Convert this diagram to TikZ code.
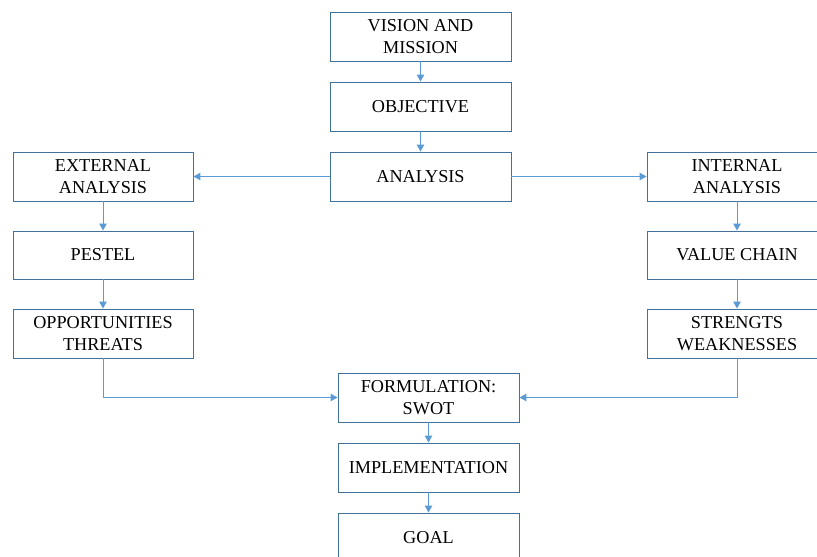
\documentclass[tikz,border=0pt]{standalone}
\usepackage{fontspec}
\setmainfont{Liberation Serif}
\usetikzlibrary{arrows.meta}
\definecolor{boxc}{HTML}{41719C}
\definecolor{arrc}{HTML}{5B9BD5}
\begin{document}
\begin{tikzpicture}[x=1pt,y=-1pt,
  blk/.style={draw=boxc, line width=0.9pt, fill=white, minimum height=49pt, inner sep=0pt,
    align=center, font=\fontsize{18.2}{21.7}\selectfont, text=black},
  conn/.style={draw=arrc, line width=1pt, -{Triangle[length=7pt,width=7.5pt]}}]
\useasboundingbox (0,0) rectangle (817,557);
\clip (0,0) rectangle (817,557);
\node[blk, minimum width=181pt] (vm) at (420.5,36.5) {VISION AND\\MISSION};
\node[blk, minimum width=181pt] (obj) at (420.5,106.5) {OBJECTIVE};
\node[blk, minimum width=181pt] (ana) at (420.5,176.5) {ANALYSIS};
\node[blk, minimum width=180pt] (ext) at (103,176.5) {EXTERNAL\\ANALYSIS};
\node[blk, minimum width=180pt, minimum height=48pt] (pes) at (103,255) {PESTEL};
\node[blk, minimum width=180pt] (opp) at (103,333.5) {OPPORTUNITIES\\THREATS};
\node[blk, minimum width=180pt] (int) at (737,176.5) {INTERNAL\\ANALYSIS};
\node[blk, minimum width=180pt, minimum height=48pt] (val) at (737,255) {VALUE CHAIN};
\node[blk, minimum width=180pt] (str) at (737,333.5) {STRENGTS\\WEAKNESSES};
\node[blk, minimum width=181pt] (form) at (428.5,397.5) {FORMULATION:\\SWOT};
\node[blk, minimum width=181pt] (impl) at (428.5,467.5) {IMPLEMENTATION};
\node[blk, minimum width=181pt] (goal) at (428.5,537.5) {GOAL};
\draw[conn] (vm) -- (obj);
\draw[conn] (obj) -- (ana);
\draw[conn] (ana.west) -- (ext.east);
\draw[conn] (ana.east) -- (int.west);
\draw[conn] (ext) -- (pes);
\draw[conn] (pes) -- (opp);
\draw[conn] (int) -- (val);
\draw[conn] (val) -- (str);
\draw[conn] (opp.south) |- (form.west);
\draw[conn] (str.south) |- (form.east);
\draw[conn] (form) -- (impl);
\draw[conn] (impl) -- (goal);
\end{tikzpicture}
\end{document}
